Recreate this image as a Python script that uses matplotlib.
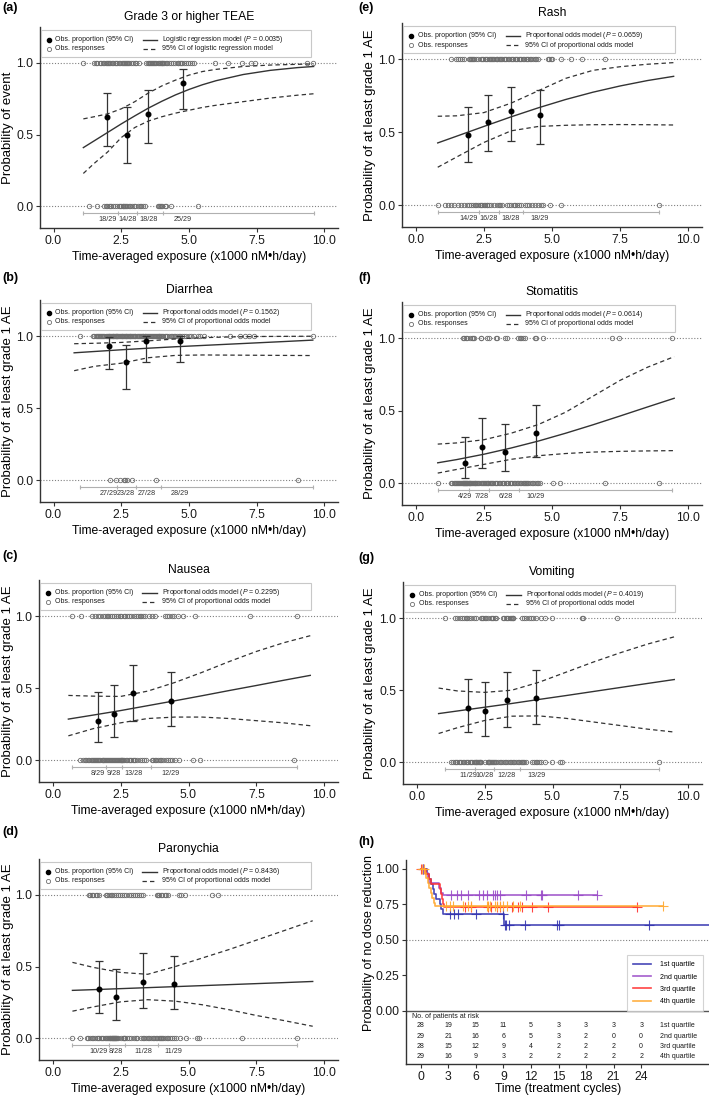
import numpy as np
import matplotlib.pyplot as plt
from matplotlib.patches import Rectangle
from matplotlib.ticker import FormatStrFormatter

plt.rcParams['font.family'] = ['Liberation Sans', 'DejaVu Sans']
plt.rcParams['mathtext.fontset'] = 'custom'
plt.rcParams['mathtext.it'] = 'Liberation Sans:italic'
plt.rcParams['mathtext.rm'] = 'Liberation Sans'

x_label = 'Time-averaged exposure (x1000 nM\u2022h/day)'
y_label_ae = 'Probability of at least grade 1 AE'

# ---- (a) Grade 3 or higher TEAE
teae_bin_x = [1.99, 2.72, 3.49, 4.78]
teae_prop = [0.621, 0.500, 0.643, 0.862]
teae_lo = [0.42, 0.306, 0.44, 0.68]
teae_hi = [0.79, 0.694, 0.81, 0.956]
teae_counts = ['18/29', '14/28', '18/28', '25/29']
teae_edges = [1.08, 2.39, 3.08, 4.04, 9.6]
teae_curve_x = [1.1, 1.5, 2.0, 2.5, 3.0, 3.5, 4.0, 4.5, 5.0, 5.5, 6.0, 7.0, 8.0, 9.0, 9.6]
teae_fit = [0.41, 0.457, 0.516, 0.575, 0.631, 0.685, 0.733, 0.777, 0.815, 0.848, 0.876, 0.919, 0.948, 0.967, 0.975]
teae_upper = [0.61, 0.625, 0.645, 0.68, 0.73, 0.79, 0.84, 0.88, 0.915, 0.94, 0.955, 0.975, 0.985, 0.99, 0.993]
teae_lower = [0.23, 0.30, 0.38, 0.48, 0.55, 0.595, 0.625, 0.65, 0.67, 0.69, 0.705, 0.73, 0.755, 0.775, 0.785]
teae_evt = [1.08, 1.48, 1.55, 1.62, 1.7, 1.76, 1.82, 1.88, 1.93, 1.98, 2.02, 2.06, 2.1, 2.15, 2.2, 2.26, 2.31, 2.36,
            2.42, 2.47, 2.52, 2.56, 2.6, 2.63, 2.66, 2.7, 2.74, 2.78, 2.85, 2.92, 3.0, 3.05,
            3.15, 3.42, 3.48, 3.52, 3.56, 3.6, 3.64, 3.68, 3.72, 3.76, 3.8, 3.84, 3.88, 3.92, 3.96, 3.99, 4.01, 4.03,
            4.08, 4.14, 4.2, 4.28, 4.35, 4.42, 4.5, 4.58, 4.6, 4.65, 4.72, 4.75, 4.8, 4.88, 4.95, 5.03, 5.1, 5.18,
            5.95, 6.45, 6.95, 7.28, 7.42, 9.35, 9.58]
teae_none = [1.3, 1.61, 1.86, 1.92, 1.98, 2.03, 2.08, 2.13, 2.2, 2.28, 2.35,
             2.42, 2.46, 2.5, 2.55, 2.58, 2.6, 2.63, 2.66, 2.72, 2.78, 2.84, 2.9, 2.96, 3.02,
             3.12, 3.18, 3.24, 3.3, 3.36, 3.86, 3.9, 3.94, 3.98, 4.02,
             4.1, 4.15, 4.32, 5.34]

# ---- (b) Diarrhea
diar_bin_x = [2.03, 2.68, 3.43, 4.66]
diar_prop = [0.931, 0.821, 0.964, 0.966]
diar_lo = [0.772, 0.631, 0.817, 0.822]
diar_hi = [0.992, 0.939, 0.999, 0.999]
diar_counts = ['27/29', '23/28', '27/28', '28/29']
diar_edges = [0.98, 2.34, 3.05, 3.97, 9.57]
diar_curve_x = [0.76, 1.5, 2.5, 3.5, 4.5, 5.5, 6.5, 7.5, 8.5, 9.57]
diar_fit = [0.884, 0.893, 0.905, 0.916, 0.926, 0.935, 0.944, 0.953, 0.962, 0.972]
diar_upper = [0.947, 0.950, 0.956, 0.967, 0.980, 0.989, 0.994, 0.997, 0.998, 0.999]
diar_lower = [0.760, 0.790, 0.812, 0.850, 0.866, 0.869, 0.868, 0.867, 0.866, 0.865]
diar_evt = [0.96, 1.45, 1.5, 1.55, 1.6, 1.64, 1.68, 1.72, 1.76, 1.8, 1.84, 1.88, 1.92, 1.96, 2.0, 2.03, 2.06, 2.09,
            2.12, 2.15, 2.18, 2.21, 2.24, 2.27, 2.29, 2.31, 2.33,
            2.36, 2.39, 2.42, 2.45, 2.48, 2.51, 2.54, 2.57, 2.6, 2.63, 2.66, 2.69, 2.72, 2.75, 2.78, 2.81, 2.84,
            2.87, 2.9, 2.93, 2.96, 2.99, 3.02,
            3.08, 3.11, 3.15, 3.18, 3.22, 3.25, 3.29, 3.32, 3.36, 3.39, 3.43, 3.46, 3.5, 3.53, 3.57, 3.6, 3.64,
            3.67, 3.71, 3.74, 3.78, 3.81, 3.85, 3.88, 3.91, 3.94, 3.96,
            4.0, 4.05, 4.1, 4.15, 4.2, 4.26, 4.32, 4.38, 4.44, 4.5, 4.56, 4.62, 4.68, 4.75, 4.82, 4.9, 5.0, 5.08,
            5.2, 5.32, 5.42, 5.55, 6.5, 6.9, 7.05, 7.2, 7.4, 9.57]
diar_none = [2.1, 2.3, 2.45, 2.6, 2.65, 2.7, 2.9, 3.79, 9.02]

# ---- (c) Nausea
naus_bin_x = [1.66, 2.26, 2.97, 4.34]
naus_prop = [0.276, 0.321, 0.464, 0.414]
naus_lo = [0.127, 0.159, 0.275, 0.235]
naus_hi = [0.472, 0.524, 0.661, 0.610]
naus_counts = ['8/29', '9/28', '13/28', '12/29']
naus_edges = [0.73, 1.95, 2.57, 3.62, 9.0]
naus_curve_x = [0.58, 1.5, 2.5, 3.5, 4.5, 5.5, 6.5, 7.5, 8.5, 9.48]
naus_fit = [0.286, 0.314, 0.345, 0.379, 0.413, 0.448, 0.484, 0.519, 0.555, 0.589]
naus_upper = [0.45, 0.445, 0.443, 0.48, 0.54, 0.61, 0.685, 0.755, 0.815, 0.864]
naus_lower = [0.17, 0.22, 0.26, 0.29, 0.30, 0.30, 0.29, 0.275, 0.26, 0.24]
naus_evt = [0.73, 1.05, 1.45, 1.57, 1.68, 1.76, 1.85, 1.92,
            2.0, 2.05, 2.12, 2.2, 2.26, 2.32, 2.4, 2.47, 2.53,
            2.62, 2.68, 2.75, 2.82, 2.9, 3.0, 3.08, 3.14, 3.2, 3.26, 3.32, 3.4, 3.56,
            3.66, 3.76, 4.12, 4.2, 4.3, 4.4, 4.48, 4.61, 4.8, 5.23, 7.25, 8.98]
naus_none = [1.02, 1.12, 1.18, 1.24, 1.3, 1.35, 1.4, 1.44, 1.48, 1.52, 1.56, 1.6, 1.64, 1.68, 1.72, 1.76, 1.8,
             1.84, 1.87, 1.9, 1.93,
             1.97, 2.0, 2.03, 2.06, 2.1, 2.14, 2.18, 2.22, 2.26, 2.3, 2.34, 2.38, 2.42, 2.45, 2.48, 2.5, 2.52,
             2.54, 2.56,
             2.6, 2.64, 2.7, 2.75, 2.8, 2.85, 2.9, 2.95, 3.0, 3.05, 3.12, 3.2, 3.3, 3.36, 3.42,
             3.64, 3.7, 3.76, 3.82, 3.88, 3.94, 4.0, 4.08, 4.16, 4.24, 4.32, 4.4, 4.5, 4.66, 5.15, 5.42, 8.87]

# ---- (d) Paronychia
paro_bin_x = [1.70, 2.34, 3.32, 4.45]
paro_prop = [0.345, 0.286, 0.393, 0.379]
paro_lo = [0.179, 0.132, 0.215, 0.207]
paro_hi = [0.543, 0.487, 0.594, 0.577]
paro_counts = ['10/29', '8/28', '11/28', '11/29']
paro_edges = [0.71, 2.09, 2.66, 3.88, 9.0]
paro_curve_x = [0.73, 1.5, 2.5, 3.5, 4.5, 5.5, 6.5, 7.5, 8.5, 9.57]
paro_fit = [0.335, 0.340, 0.347, 0.354, 0.361, 0.368, 0.375, 0.382, 0.389, 0.397]
paro_upper = [0.53, 0.495, 0.46, 0.447, 0.50, 0.56, 0.62, 0.685, 0.75, 0.82]
paro_lower = [0.19, 0.22, 0.255, 0.27, 0.26, 0.235, 0.20, 0.16, 0.125, 0.085]
paro_evt = [1.33, 1.38, 1.44, 1.5, 1.58, 1.65, 1.7, 1.95, 2.0, 2.06,
            2.14, 2.19, 2.26, 2.35, 2.42, 2.48, 2.55, 2.62,
            2.7, 2.81, 2.88, 2.95, 3.02, 3.1, 3.18, 3.25, 3.31, 3.84, 3.87,
            3.92, 3.98, 4.04, 4.12, 4.18, 4.24, 4.65, 4.72, 4.86, 5.85, 6.1]
paro_none = [0.71, 0.99, 1.26, 1.32, 1.38, 1.44, 1.5, 1.56, 1.62, 1.67, 1.72, 1.77, 1.82, 1.87, 1.92, 1.96, 2.0,
             2.04, 2.07,
             2.11, 2.13, 2.15, 2.17, 2.19, 2.21, 2.23, 2.25, 2.27, 2.29, 2.31, 2.33, 2.35, 2.37, 2.39, 2.5, 2.6,
             2.62, 2.64, 2.65,
             2.72, 2.8, 2.9, 3.0, 3.08, 3.12, 3.26, 3.32, 3.38, 3.44, 3.5, 3.56, 3.62, 3.68, 3.74, 3.8, 3.85,
             3.9, 3.94, 3.98, 4.02, 4.08, 4.14, 4.2, 4.26, 4.32, 4.4, 4.48, 4.55, 4.67, 4.92, 5.3, 5.4, 6.96, 9.0]

# ---- (e) Rash
rash_bin_x = [1.93, 2.66, 3.49, 4.56]
rash_prop = [0.483, 0.571, 0.643, 0.621]
rash_lo = [0.295, 0.372, 0.441, 0.423]
rash_hi = [0.675, 0.755, 0.814, 0.793]
rash_counts = ['14/29', '16/28', '18/28', '18/29']
rash_edges = [0.81, 2.32, 3.06, 3.95, 8.91]
rash_curve_x = [0.81, 1.5, 2.5, 3.5, 4.5, 5.5, 6.5, 7.5, 8.5, 9.46]
rash_fit = [0.427, 0.473, 0.540, 0.606, 0.668, 0.725, 0.775, 0.818, 0.855, 0.884]
rash_upper = [0.61, 0.613, 0.635, 0.70, 0.785, 0.87, 0.925, 0.95, 0.967, 0.978]
rash_lower = [0.26, 0.33, 0.43, 0.51, 0.54, 0.548, 0.552, 0.553, 0.552, 0.55]
rash_evt = [1.29, 1.48, 1.55, 1.62, 1.7, 1.78, 1.96, 2.0, 2.04, 2.08, 2.11, 2.14, 2.2, 2.28,
            2.38, 2.43, 2.48, 2.53, 2.58, 2.62, 2.68, 2.72, 2.76, 2.8, 2.84, 2.88, 2.93, 2.97, 3.0, 3.04,
            3.08, 3.13, 3.18, 3.23, 3.28, 3.33, 3.38, 3.43, 3.48, 3.53, 3.58, 3.63, 3.68, 3.73, 3.78, 3.83,
            3.88, 3.93,
            3.98, 4.03, 4.08, 4.13, 4.18, 4.24, 4.32, 4.36, 4.41, 4.5, 4.84, 4.9, 4.95, 5.0, 5.34, 5.68, 6.1, 6.94]
rash_none = [0.81, 1.08, 1.18, 1.3, 1.41, 1.54, 1.65, 1.78, 1.9, 1.97, 2.03, 2.1, 2.16, 2.22, 2.28,
             2.36, 2.4, 2.45, 2.5, 2.56, 2.6, 2.63, 2.68, 2.75, 2.87, 2.99, 3.04,
             3.1, 3.17, 3.35, 3.42, 3.5, 3.59, 3.65, 3.72, 3.8, 3.88,
             4.0, 4.07, 4.15, 4.26, 4.38, 4.5, 4.6, 4.68, 4.92, 5.34, 8.91]

# ---- (f) Stomatitis
stom_bin_x = [1.81, 2.42, 3.29, 4.41]
stom_prop = [0.138, 0.25, 0.214, 0.345]
stom_lo = [0.039, 0.107, 0.083, 0.179]
stom_hi = [0.317, 0.449, 0.41, 0.543]
stom_counts = ['4/29', '7/28', '6/28', '10/29']
stom_edges = [0.81, 1.96, 2.68, 3.8, 9.4]
stom_curve_x = [0.81, 1.5, 2.5, 3.5, 4.5, 5.5, 6.5, 7.5, 8.5, 9.48]
stom_fit = [0.141, 0.163, 0.200, 0.243, 0.291, 0.345, 0.403, 0.464, 0.526, 0.586]
stom_upper = [0.27, 0.278, 0.30, 0.345, 0.405, 0.49, 0.60, 0.71, 0.80, 0.873]
stom_lower = [0.07, 0.095, 0.13, 0.165, 0.19, 0.205, 0.215, 0.22, 0.223, 0.225]
stom_evt = [1.72, 1.78, 1.84, 1.9,
            2.0, 2.05, 2.1, 2.14, 2.38, 2.4, 2.62,
            2.7, 2.93, 2.99, 3.29, 3.35, 3.75,
            3.82, 3.88, 3.95, 4.01, 4.38, 4.41, 4.68, 7.2, 7.46, 9.4]
stom_none = [0.81, 1.29, 1.35, 1.4, 1.44, 1.48, 1.52, 1.56, 1.6, 1.63, 1.66, 1.69, 1.72, 1.74, 1.76, 1.78,
             1.8, 1.82, 1.84, 1.86, 1.88, 1.9, 1.92, 1.94, 1.95,
             1.98, 2.01, 2.04, 2.07, 2.1, 2.13, 2.16, 2.19, 2.22, 2.26, 2.3, 2.34, 2.38, 2.42, 2.46, 2.5,
             2.54, 2.58, 2.62, 2.65, 2.67,
             2.72, 2.76, 2.8, 2.85, 2.9, 2.95, 3.0, 3.05, 3.1, 3.15, 3.2, 3.25, 3.3, 3.35, 3.4, 3.45, 3.5,
             3.55, 3.6, 3.65, 3.7, 3.76,
             3.84, 3.88, 3.92, 3.96, 4.0, 4.04, 4.07, 4.12, 4.2, 4.26, 4.32, 4.38, 4.44, 4.5, 4.56, 5.04,
             5.28, 6.94, 8.91]

# ---- (g) Vomiting
vomi_bin_x = [1.90, 2.50, 3.31, 4.41]
vomi_prop = [0.379, 0.357, 0.429, 0.448]
vomi_lo = [0.207, 0.186, 0.245, 0.264]
vomi_hi = [0.577, 0.559, 0.628, 0.643]
vomi_counts = ['11/29', '10/28', '12/28', '13/29']
vomi_edges = [1.03, 2.16, 2.84, 3.8, 8.91]
vomi_curve_x = [0.81, 1.5, 2.5, 3.5, 4.5, 5.5, 6.5, 7.5, 8.5, 9.48]
vomi_fit = [0.338, 0.356, 0.382, 0.408, 0.436, 0.463, 0.491, 0.519, 0.547, 0.574]
vomi_upper = [0.515, 0.495, 0.485, 0.50, 0.555, 0.625, 0.695, 0.76, 0.82, 0.87]
vomi_lower = [0.20, 0.24, 0.29, 0.32, 0.322, 0.305, 0.28, 0.255, 0.23, 0.21]
vomi_evt = [1.03, 1.41, 1.5, 1.58, 1.66, 1.74, 1.8, 1.86, 1.94, 2.02, 2.1,
            2.2, 2.38, 2.42, 2.46, 2.5, 2.56, 2.62, 2.72, 2.78, 2.82,
            2.88, 2.93, 3.17, 3.22, 3.28, 3.34, 3.38, 3.42, 3.46, 3.5, 3.53, 3.56,
            3.89, 3.96, 4.04, 4.12, 4.2, 4.3, 4.38, 4.56, 4.74, 4.98, 6.07, 6.13, 7.37]
vomi_none = [1.27, 1.35, 1.4, 1.45, 1.5, 1.55, 1.6, 1.65, 1.7, 1.75, 1.8, 1.85, 1.9, 1.95, 2.0, 2.05, 2.1, 2.14,
             2.18, 2.2, 2.23, 2.26, 2.29, 2.32, 2.35, 2.38, 2.5, 2.62, 2.64, 2.66, 2.68, 2.7, 2.72, 2.76, 2.8,
             2.83,
             2.87, 2.93, 3.0, 3.06, 3.12, 3.18, 3.24, 3.3, 3.36, 3.42, 3.48, 3.54, 3.6, 3.66, 3.72, 3.78,
             3.84, 3.86, 3.9, 3.96, 4.01, 4.26, 4.32, 4.38, 4.44, 4.5, 4.56, 4.74, 4.98, 5.28, 5.34, 8.91]

# ---- (h) Kaplan-Meier by exposure quartile
q_names = ['1st quartile', '2nd quartile', '3rd quartile', '4th quartile']
q_colors = ['#3434b0', '#9a4cc8', '#ff3030', '#ffa82e']
q1_times = [0, 0.7, 0.95, 1.16, 1.35, 1.5, 1.64, 2.07, 2.25, 2.4, 9.05]
q1_surv = [1.0, 0.964, 0.929, 0.893, 0.857, 0.821, 0.786, 0.75, 0.714, 0.679, 0.605]
q1_cens = [0.3, 3.16, 3.6, 4.07, 6.0, 8.95, 9.15, 9.25, 9.6, 11.35, 14.8, 15.0, 24.9]
q1_end = 31.4
q2_times = [0, 0.5, 0.75, 0.95, 1.95, 2.2, 2.4]
q2_surv = [1.0, 0.966, 0.931, 0.897, 0.862, 0.828, 0.812]
q2_cens = [0.2, 3.35, 3.9, 4.4, 5.2, 6.4, 6.8, 7.2, 7.9, 8.1, 8.3, 8.6, 11.5, 13.1, 13.2, 17.1, 19.2]
q2_end = 19.2
q3_times = [0, 0.6, 0.85, 1.1, 2.05, 2.2, 2.3, 2.4, 2.5]
q3_surv = [1.0, 0.964, 0.929, 0.893, 0.857, 0.821, 0.786, 0.75, 0.726]
q3_cens = [0.0, 4.8, 5.5, 7.3, 7.7, 8.3, 8.6, 9.9, 10.6, 11.0, 12.1, 13.9, 23.5]
q3_end = 23.5
q4_times = [0, 0.45, 0.62, 0.8, 0.95, 1.1, 1.25, 1.4, 1.55]
q4_surv = [1.0, 0.966, 0.931, 0.897, 0.862, 0.828, 0.793, 0.759, 0.734]
q4_cens = [0.1, 0.35, 2.8, 3.2, 3.5, 4.6, 5.2, 5.5, 7.2, 7.3, 7.5, 8.1, 8.3, 8.6, 9.0, 9.4, 10.1, 10.8, 26.4]
q4_end = 26.4

risk_t = [0, 3, 6, 9, 12, 15, 18, 21, 24]
risk_q1 = [28, 19, 15, 11, 5, 3, 3, 3, 3]
risk_q2 = [29, 21, 16, 6, 5, 3, 2, 0, 0]
risk_q3 = [28, 15, 12, 9, 4, 2, 2, 2, 0]
risk_q4 = [29, 16, 9, 3, 2, 2, 2, 2, 2]

W, H = 709, 1096
fig = plt.figure(figsize=(W / 100, H / 100), dpi=100)
dark = '#333333'
circ_col = '#6e6e6e'
dash = (0, (3.5, 2.5))


def px_rect(l, t, r, b):
    return [l / W, 1 - b / H, (r - l) / W, (b - t) / H]


def style_axes(ax):
    for s in ['top', 'right']:
        ax.spines[s].set_visible(False)
    for s in ['left', 'bottom']:
        ax.spines[s].set_color(dark)
        ax.spines[s].set_linewidth(1.0)
    ax.tick_params(direction='out', length=3, width=0.8, color=dark, labelsize=8.7,
                   labelcolor='#1a1a1a', pad=1.8)


def box_legend(ax, model, pval):
    # framed two-column key drawn in axes fractions
    ax.add_patch(Rectangle((0.004, 0.852), 0.905, 0.133, transform=ax.transAxes, facecolor='white',
                           edgecolor='#c8c8c8', lw=0.8, zorder=5))
    r1, r2 = 0.937, 0.892
    kw = dict(transform=ax.transAxes, zorder=6, clip_on=False)
    ax.plot([0.03], [r1], 'o', color='black', ms=3, **kw)
    ax.plot([0.03], [r2], 'o', mfc='none', mec=circ_col, mew=0.6, ms=3, **kw)
    ax.plot([0.345, 0.393], [r1, r1], color=dark, lw=1.0, **kw)
    ax.plot([0.345, 0.393], [r2, r2], color=dark, lw=0.9, ls=dash, **kw)
    tkw = dict(transform=ax.transAxes, fontsize=5, va='center', ha='left', zorder=6, color='#1a1a1a')
    ax.text(0.052, r1, 'Obs. proportion (95% CI)', **tkw)
    ax.text(0.052, r2, 'Obs. responses', **tkw)
    ax.text(0.41, r1, f'{model} ($P$ = {pval})', **tkw)
    ax.text(0.41, r2, f'95% CI of {model[0].lower() + model[1:]}', **tkw)


def draw_exposure(ax, label_px, title, ylab, model, pval, evt, none, edges, bx, prop, lo, hi,
                  counts, cx, fit, upper, lower):
    for yy in (0, 1):
        ax.axhline(yy, color='#808080', ls=(0, (1, 1.6)), lw=0.8, zorder=1)
    ax.plot(evt, np.ones(len(evt)), 'o', ms=3.2, mfc='none', mec=circ_col, mew=0.6, zorder=2)
    ax.plot(none, np.zeros(len(none)), 'o', ms=3.2, mfc='none', mec=circ_col, mew=0.6, zorder=2)
    ax.plot(cx, fit, color=dark, lw=1.0, zorder=3)
    ax.plot(cx, upper, color=dark, lw=0.9, ls=dash, zorder=3)
    ax.plot(cx, lower, color=dark, lw=0.9, ls=dash, zorder=3)
    ax.errorbar(bx, prop, yerr=[np.subtract(prop, lo), np.subtract(hi, prop)], fmt='o',
                color='black', ecolor=dark, ms=3.3, capsize=2.8, elinewidth=0.9, capthick=0.9,
                zorder=4)
    ax.plot([edges[0], edges[-1]], [-0.044, -0.044], color='#b0b0b0', lw=0.8)
    ax.vlines(edges, -0.062, -0.033, color='#b0b0b0', lw=0.8)
    for x, c in zip(bx, counts):
        ax.text(x, -0.093, c, ha='center', va='center', fontsize=5.2, color=dark)

    ax.set_xlim(-0.5, 10.5)
    ax.set_ylim(-0.15, 1.25)
    ax.set_xticks([0, 2.5, 5, 7.5, 10])
    ax.set_yticks([0, 0.5, 1])
    ax.xaxis.set_major_formatter(FormatStrFormatter('%.1f'))
    ax.yaxis.set_major_formatter(FormatStrFormatter('%.1f'))
    style_axes(ax)
    ax.set_title(title, fontsize=8.7, pad=5)
    ax.set_xlabel(x_label, fontsize=8.7, labelpad=3)
    ax.set_ylabel(ylab, fontsize=9.5)
    pos = ax.get_position()
    ax.yaxis.set_label_coords((label_px - pos.x0 * W) / (pos.width * W), 0.5)
    box_legend(ax, model, pval)


panels = [
    ((40, 27, 338, 228), 14, 'Grade 3 or higher TEAE', 'Probability of event', 'Logistic regression model',
     '0.0035', teae_evt, teae_none, teae_edges, teae_bin_x, teae_prop, teae_lo, teae_hi, teae_counts,
     teae_curve_x, teae_fit, teae_upper, teae_lower),
    ((40, 300, 338, 502), 14, 'Diarrhea', y_label_ae, 'Proportional odds model', '0.1562',
     diar_evt, diar_none, diar_edges, diar_bin_x, diar_prop, diar_lo, diar_hi, diar_counts,
     diar_curve_x, diar_fit, diar_upper, diar_lower),
    ((39, 580, 338, 782), 14, 'Nausea', y_label_ae, 'Proportional odds model', '0.2295',
     naus_evt, naus_none, naus_edges, naus_bin_x, naus_prop, naus_lo, naus_hi, naus_counts,
     naus_curve_x, naus_fit, naus_upper, naus_lower),
    ((39, 859, 338, 1060), 14, 'Paronychia', y_label_ae, 'Proportional odds model', '0.8436',
     paro_evt, paro_none, paro_edges, paro_bin_x, paro_prop, paro_lo, paro_hi, paro_counts,
     paro_curve_x, paro_fit, paro_upper, paro_lower),
    ((402, 23, 702, 227), 376, 'Rash', y_label_ae, 'Proportional odds model', '0.0659',
     rash_evt, rash_none, rash_edges, rash_bin_x, rash_prop, rash_lo, rash_hi, rash_counts,
     rash_curve_x, rash_fit, rash_upper, rash_lower),
    ((402, 302, 702, 505), 376, 'Stomatitis', y_label_ae, 'Proportional odds model', '0.0614',
     stom_evt, stom_none, stom_edges, stom_bin_x, stom_prop, stom_lo, stom_hi, stom_counts,
     stom_curve_x, stom_fit, stom_upper, stom_lower),
    ((403, 582, 702, 784), 376, 'Vomiting', y_label_ae, 'Proportional odds model', '0.4019',
     vomi_evt, vomi_none, vomi_edges, vomi_bin_x, vomi_prop, vomi_lo, vomi_hi, vomi_counts,
     vomi_curve_x, vomi_fit, vomi_upper, vomi_lower),
]

for p in panels:
    ax = fig.add_axes(px_rect(*p[0]))
    draw_exposure(ax, *p[1:])

# ---- KM panel
ax = fig.add_axes(px_rect(406, 860, 711, 1064))
ax.axhline(0.5, color='#808080', ls=(0, (1, 1.6)), lw=0.8, zorder=1)
ax.axhline(0, color='#555555', lw=1.0, zorder=1)
km = [(q1_times, q1_surv, q1_cens, q1_end), (q2_times, q2_surv, q2_cens, q2_end),
      (q3_times, q3_surv, q3_cens, q3_end), (q4_times, q4_surv, q4_cens, q4_end)]
for (t, s, cens, end), col, name in zip(km, q_colors, q_names):
    ax.step(t + [end], s + [s[-1]], where='post', color=col, lw=1.2, alpha=0.9, label=name)
    idx = np.searchsorted(t, cens, side='right') - 1
    ax.plot(cens, np.array(s)[idx], '+', color=col, ms=6.5, mew=0.8, alpha=0.9)

leg = ax.legend(loc='upper left', bbox_to_anchor=(0.725, 0.534), fontsize=5, frameon=True,
                fancybox=False, edgecolor='#c8c8c8', handlelength=2.6, handletextpad=1.2,
                borderpad=0.9, labelspacing=0.75, borderaxespad=0)
leg.get_frame().set_linewidth(0.8)

ax.text(-1.0, -0.04, 'No. of patients at risk', fontsize=5, ha='left', va='center', color='#1a1a1a')
for row, yy, name in zip([risk_q1, risk_q2, risk_q3, risk_q4], [-0.105, -0.18, -0.254, -0.324], q_names):
    for t, n in zip(risk_t, row):
        ax.text(t, yy, str(n), fontsize=5, ha='center', va='center', color='#1a1a1a')
    ax.text(26.1, yy, name, fontsize=5, ha='left', va='center', color='#1a1a1a')

ax.set_xlim(-1.6, 31.6)
ax.set_ylim(-0.375, 1.06)
ax.set_xticks(risk_t)
ax.set_yticks([0, 0.25, 0.5, 0.75, 1.0])
ax.yaxis.set_major_formatter(FormatStrFormatter('%.2f'))
style_axes(ax)
ax.set_xlabel('Time (treatment cycles)', fontsize=8.7, labelpad=0.5)
ax.set_ylabel('Probability of no dose reduction', fontsize=9)
ax.yaxis.set_label_coords((375 - 406) / 305, 0.593)

# panel letters
for lab, x, y in [('(a)', 2, 8), ('(b)', 2, 278), ('(c)', 2, 556), ('(d)', 2, 832),
                  ('(e)', 358, 8), ('(f)', 358, 278), ('(g)', 358, 558), ('(h)', 358, 842)]:
    fig.text(x / W, 1 - y / H, lab, fontsize=9, fontweight='bold', ha='left', va='center')

fig.savefig('out.png', dpi=100)
